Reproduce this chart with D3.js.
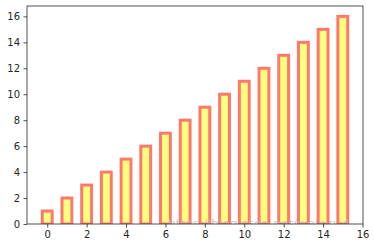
<!DOCTYPE html>
<html>
<head>
<meta charset="utf-8">
<script src="https://cdn.jsdelivr.net/npm/d3@7"></script>
<style>
  body { margin: 0; background: #fff; }
  svg { display: block; font-family: "DejaVu Sans", sans-serif; }
</style>
</head>
<body>
<svg width="374" height="248"></svg>
<script>
let xs = [0, 1, 2, 3, 4, 5, 6, 7, 8, 9, 10, 11, 12, 13, 14, 15]
let heights = [1, 2, 3, 4, 5, 6, 7, 8, 9, 10, 11, 12, 13, 14, 15, 16]
let xTicks = [0, 2, 4, 6, 8, 10, 12, 14, 16]
let yTicks = [0, 2, 4, 6, 8, 10, 12, 14, 16]

let svg = d3.select('svg')
let padL = 27, padR = 363, padT = 6, padB = 224

let x = d3.scaleLinear().domain([-1.025, 16.025]).range([padL, padR])
let y = d3.scaleLinear().domain([0, 16.8]).range([padB, padT])
let barW = 0.5

svg.append('clipPath').attr('id', 'plot')
    .append('rect')
    .attr('x', padL).attr('y', padT)
    .attr('width', padR - padL).attr('height', padB - padT)

let g = svg.append('g').attr('clip-path', 'url(#plot)')

g.selectAll('rect.bar')
    .data(xs)
    .enter()
    .append('rect')
    .attr('class', 'bar')
    .attr('x', (d, i) => x(d - barW / 2))
    .attr('y', (d, i) => y(heights[i]))
    .attr('width', x(barW) - x(0))
    .attr('height', (d, i) => y(0) - y(heights[i]))
    .attr('fill', '#ffff7f')
    .attr('stroke', '#ff786c')
    .attr('stroke-width', 3)

// faint watermark, cut off by the axis
g.append('text')
    .attr('x', 168)
    .attr('y', 225.5)
    .attr('font-size', 9)
    .attr('textLength', 182)
    .attr('lengthAdjust', 'spacingAndGlyphs')
    .attr('fill', '#bdbdbd')
    .attr('opacity', 0.85)
    .text('https://blog.csdn.net/weixin_4')

let xAxis = svg.append('g')
    .attr('transform', `translate(0,${padB})`)
    .call(d3.axisBottom(x).tickValues(xTicks).tickSize(3.5).tickPadding(3.5).tickFormat(d3.format('d')))
let yAxis = svg.append('g')
    .attr('transform', `translate(${padL},0)`)
    .call(d3.axisLeft(y).tickValues(yTicks).tickSize(3.5).tickPadding(3.5).tickFormat(d3.format('d')))

for (let ax of [xAxis, yAxis]) {
    ax.select('.domain').remove()
    ax.selectAll('text').attr('font-size', 10).attr('fill', '#262626').attr('font-family', '"DejaVu Sans", sans-serif')
    ax.selectAll('line').attr('stroke', '#262626').attr('stroke-width', 0.8)
}

svg.append('rect')
    .attr('x', padL).attr('y', padT)
    .attr('width', padR - padL).attr('height', padB - padT)
    .attr('fill', 'none')
    .attr('stroke', '#262626')
    .attr('stroke-width', 0.8)
</script>
</body>
</html>
